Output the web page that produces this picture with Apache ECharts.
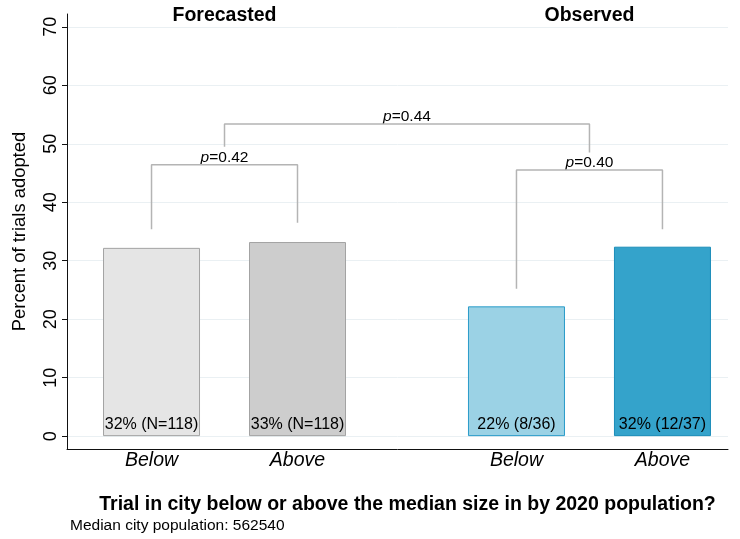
<!DOCTYPE html>
<html><head><meta charset="utf-8">
<script src="https://cdn.jsdelivr.net/npm/echarts@6/dist/echarts.min.js"></script>
<style>html,body{margin:0;padding:0;background:#fff}#c{width:740px;height:539px}</style>
</head><body><div id="c"></div>
<script>
// ---- data ----
const groups = ['Forecasted', 'Observed'];
const groupCenters = [0.5, 3.0];
const categories = ['Below', 'Above', 'Below', 'Above'];
const positions = [0, 1, 2.5, 3.5];
const values = [32.2, 33.2, 22.2, 32.4];
const barLabels = ['32% (N=118)', '33% (N=118)', '22% (8/36)', '32% (12/37)'];
const yTicks = [0, 10, 20, 30, 40, 50, 60, 70];
// brackets: [x1, x2, left leg bottom, right leg bottom, top, p label]
const brackets = [
  [0, 1, 35.4, 36.5, 46.4, '0.42'],
  [2.5, 3.5, 25.2, 35.4, 45.5, '0.40'],
  [0.5, 3.0, 49.5, 48.5, 53.4, '0.44']
];
const xTitle = 'Trial in city below or above the median size in by 2020 population?';
const note = 'Median city population: 562540';

const fills = ['#e5e5e5', '#cdcdcd', '#9bd2e5', '#34a3cb'];
const borders = ['#a3a3a3', '#a3a3a3', '#2a9bc9', '#1b8db9'];

const FONT = '"Liberation Sans", Arial, sans-serif';
const chart = echarts.init(document.getElementById('c'), null, {renderer: 'canvas'});

const series = [];
series.push({
  type: 'bar',
  barWidth: 97,
  data: positions.map((p, i) => ({
    value: [p, values[i]],
    itemStyle: {color: fills[i], borderColor: borders[i], borderWidth: 1},
    label: {show: true, position: 'insideBottom', distance: 4, formatter: barLabels[i],
      color: '#000', fontSize: 16, fontFamily: FONT, textBorderWidth: 0}
  })),
  markLine: {
    silent: true, symbol: 'none', z: 0,
    lineStyle: {color: '#eaf0f3', width: 1, type: 'solid'},
    label: {show: false},
    data: yTicks.map(t => ({yAxis: t}))
  },
  z: 3
});
brackets.forEach(b => {
  series.push({
    type: 'line', symbol: 'none', silent: true,
    lineStyle: {color: '#b4b4b4', width: 1.5},
    data: [[b[0], b[2]], [b[0], b[4]], [b[1], b[4]], [b[1], b[3]]],
    z: 2
  });
});

chart.setOption({
  animation: false,
  backgroundColor: '#fff',
  grid: {left: 67, right: 12, top: 14, bottom: 90, containLabel: false},
  xAxis: {
    type: 'value', min: -0.579, max: 3.949,
    splitLine: {show: false},
    axisLine: {show: true, onZero: false, lineStyle: {color: '#111', width: 1}},
    axisTick: {show: false},
    axisLabel: {
      customValues: positions,
      formatter: v => { const i = positions.indexOf(v); return i >= 0 ? categories[i] : ''; },
      fontStyle: 'italic', fontSize: 19.5, color: '#000', fontFamily: FONT, margin: 2
    },
    name: xTitle, nameLocation: 'middle', nameGap: 46,
    nameTextStyle: {fontSize: 19.5, fontWeight: 'bold', color: '#000', fontFamily: FONT,
      padding: [0, 0, 0, 20]}
  },
  yAxis: {
    type: 'value', min: -2.2, max: 72.2,
    splitLine: {show: false},
    axisLine: {show: true, onZero: false, lineStyle: {color: '#111', width: 1}},
    axisTick: {show: true, customValues: yTicks, length: 5, lineStyle: {color: '#111'}},
    axisLabel: {customValues: yTicks, rotate: 90, fontSize: 18, color: '#000', fontFamily: FONT, margin: 7},
    name: 'Percent of trials adopted', nameLocation: 'middle', nameRotate: 90, nameGap: 38,
    nameTextStyle: {fontSize: 18.4, color: '#000', fontFamily: FONT}
  },
  series: series
});

// text annotations placed via the chart's own coordinate conversion
const gfx = [{
  type: 'text', left: 70, top: 518,
  style: {text: note, fontSize: 15.5, fill: '#000', fontFamily: FONT}
}];
groupCenters.forEach((c, i) => {
  const p = chart.convertToPixel({gridIndex: 0}, [c, 71.9]);
  gfx.push({type: 'text', x: p[0], y: p[1],
    style: {text: groups[i], fill: '#000', font: 'bold 19.5px ' + FONT, align: 'center', verticalAlign: 'middle'}});
});
brackets.forEach(b => {
  const p = chart.convertToPixel({gridIndex: 0}, [(b[0] + b[1]) / 2, b[4]]);
  gfx.push({type: 'text', x: p[0], y: p[1] + 1,
    style: {text: '{i|p}=' + b[5], fill: '#000', fontSize: 15.5, fontFamily: FONT,
      align: 'center', verticalAlign: 'bottom',
      rich: {i: {fontStyle: 'italic', fontSize: 15.5, fontFamily: FONT, fill: '#000'}}}});
});
chart.setOption({graphic: gfx});
</script>
</body></html>
